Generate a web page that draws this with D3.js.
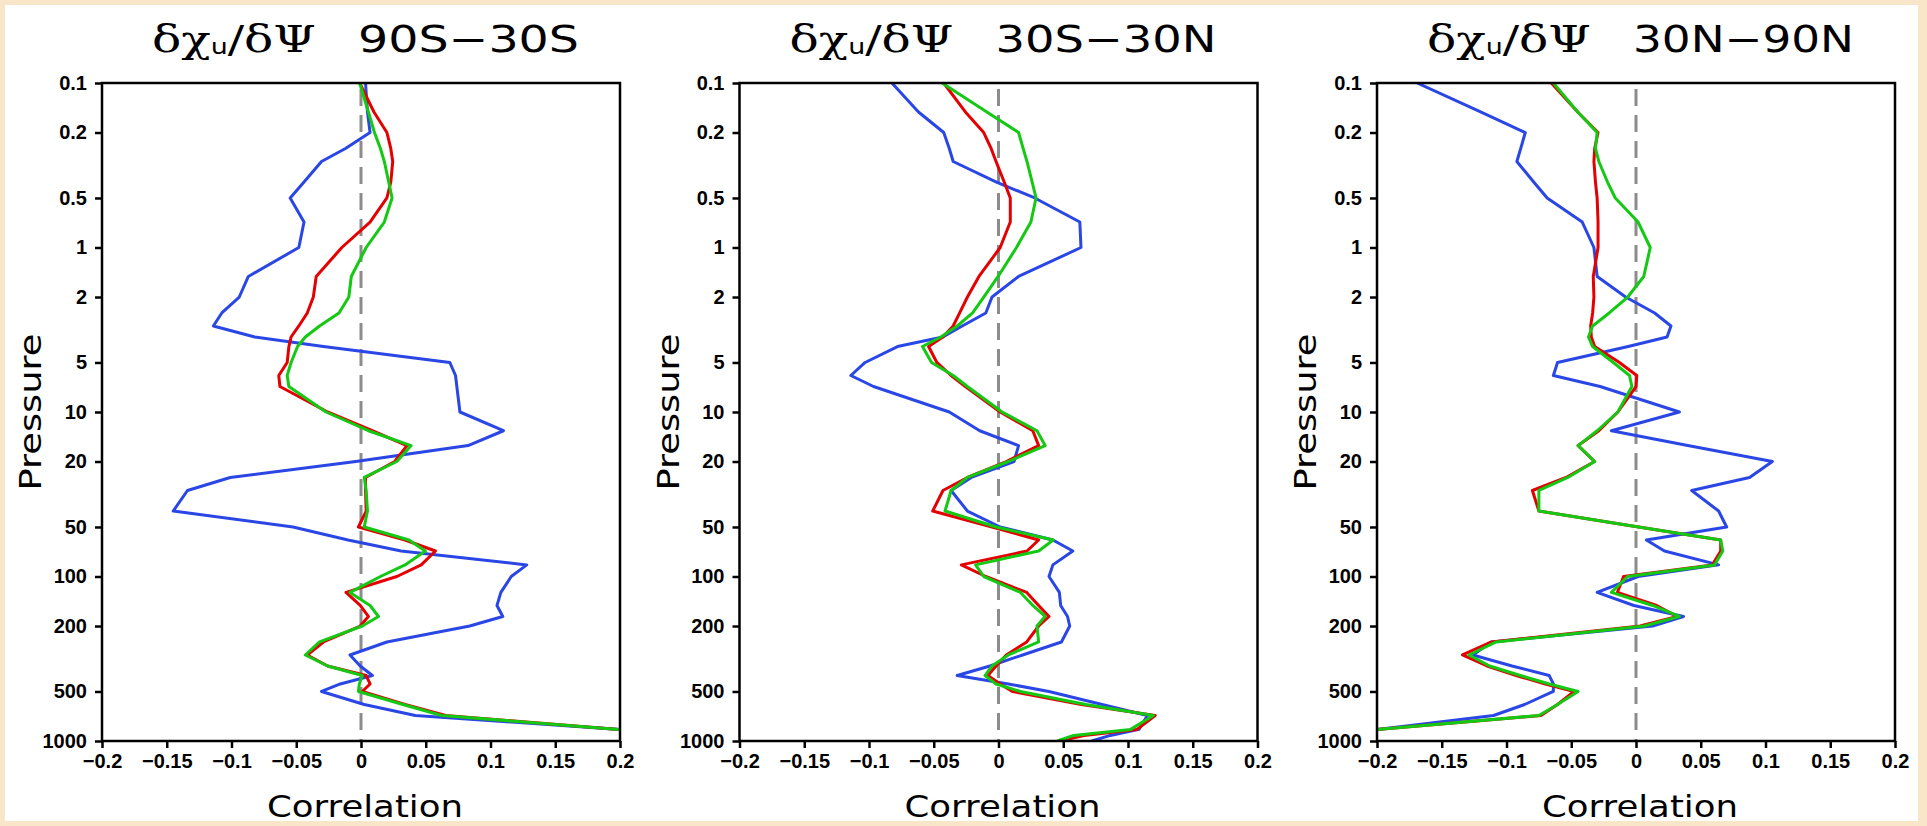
<!DOCTYPE html>
<html>
<head>
<meta charset="utf-8">
<script src="https://cdn.jsdelivr.net/npm/d3@7"></script>
<style>
  html, body { margin: 0; padding: 0; background: #f9e6c9; }
  svg { display: block; }
</style>
</head>
<body>
<svg id="chart" width="1927" height="826"></svg>
<script>
// Pressure levels (hPa) shared by every profile
const pressureLevels = [0.1, 0.15, 0.2, 0.25, 0.3, 0.4, 0.5, 0.7, 1, 1.5, 2, 2.5, 3, 3.5, 4, 5, 6, 7,
  10, 13, 16, 20, 25, 30, 40, 50, 60, 70, 85, 100, 125, 150, 175, 200, 250, 300, 350, 400, 450, 500,
  600, 700, 850, 925, 1000];

const regionNames = ["90S\u221230S", "30S\u221230N", "30N\u221290N"];
const xTickValues = [-0.2, -0.15, -0.1, -0.05, 0, 0.05, 0.1, 0.15, 0.2];
const yTickValues = [0.1, 0.2, 0.5, 1, 2, 5, 10, 20, 50, 100, 200, 500, 1000];

// 90S-30S correlation profiles
const southBlue = [0.0035, 0.005, 0.007, -0.012, -0.0305, -0.044, -0.0547, -0.044, -0.048, -0.087, -0.094,
  -0.1075, -0.114, -0.082, -0.029, 0.0686, 0.073, 0.074, 0.0764, 0.110, 0.0827, -0.004, -0.101, -0.134,
  -0.145, -0.0525, -0.010, 0.031, 0.128, 0.116, 0.108, 0.105, 0.1095, 0.084, 0.020, -0.0085, -0.0006,
  0.0088, -0.016, -0.0305, 0.0025, 0.042, 0.200, 0.26, 0.28];
const southRed = [-0.001, 0.010, 0.020, 0.023, 0.0245, 0.023, 0.020, 0.007, -0.0148, -0.0346, -0.0368,
  -0.0415, -0.048, -0.054, -0.0557, -0.057, -0.0635, -0.0626, -0.0258, 0.0088, 0.0355, 0.026, 0.0035,
  0.0035, 0.004, -0.002, 0.034, 0.0575, 0.0465, 0.0277, -0.0116, -0.0006, 0.0057, -0.0006, -0.029,
  -0.0415, -0.0258, 0.004, 0.007, 0.001, 0.034, 0.0654, 0.199, 0.26, 0.28];
const southGreen = [-0.001, 0.0057, 0.0104, 0.015, 0.018, 0.0214, 0.024, 0.018, 0.004, -0.0075, -0.0094,
  -0.017, -0.032, -0.043, -0.049, -0.054, -0.057, -0.0557, -0.027, 0.0057, 0.0387, 0.0277, 0.0025, 0.004,
  0.005, 0.0025, 0.037, 0.0497, 0.034, 0.015, -0.0085, 0.007, 0.0135, 0.001, -0.032, -0.043, -0.0258,
  0.001, -0.0013, -0.002, 0.0324, 0.0623, 0.199, 0.26, 0.28];

// 30S-30N correlation profiles
const tropicsBlue = [-0.0823, -0.0618, -0.0423, -0.038, -0.035, -0.0016, 0.028, 0.0628, 0.0637, 0.0155,
  -0.005, -0.0098, -0.028, -0.043, -0.078, -0.103, -0.114, -0.0965, -0.038, -0.0145, 0.0155, 0.012,
  -0.021, -0.0366, -0.024, 0.0013, 0.042, 0.0574, 0.042, 0.039, 0.047, 0.048, 0.0533, 0.055, 0.0486,
  0.0186, -0.0066, -0.0319, 0.0076, 0.039, 0.080, 0.115, 0.1085, 0.0864, 0.072];
const tropicsRed = [-0.0423, -0.0256, -0.0114, -0.0057, -0.0019, 0.0044, 0.0091, 0.0091, 0.0013, -0.0151,
  -0.024, -0.030, -0.035, -0.043, -0.054, -0.0476, -0.0366, -0.0256, 0.0013, 0.0265, 0.031, 0.006, -0.024,
  -0.0429, -0.0508, -0.005, 0.031, 0.022, -0.0287, -0.0098, 0.0218, 0.031, 0.039, 0.031, 0.0218, 0.006,
  -0.0019, -0.0082, 0.0013, 0.0107, 0.064, 0.121, 0.107, 0.066, 0.047];
const tropicsGreen = [-0.0435, -0.009, 0.0155, 0.019, 0.022, 0.026, 0.029, 0.025, 0.0139, -0.0003, -0.0114,
  -0.020, -0.0319, -0.0445, -0.0587, -0.0517, -0.035, -0.024, 0.0028, 0.0297, 0.036, 0.0076, -0.024,
  -0.0366, -0.0413, -0.0019, 0.0423, 0.031, -0.0177, -0.0114, 0.017, 0.0265, 0.036, 0.0297, 0.031, 0.0076,
  -0.005, -0.0104, -0.0019, 0.017, 0.0675, 0.1196, 0.102, 0.058, 0.0454];

// 30N-90N correlation profiles
const northBlue = [-0.169, -0.120, -0.0855, -0.089, -0.092, -0.079, -0.0686, -0.0415, -0.0325, -0.030,
  -0.008, 0.0144, 0.027, 0.024, -0.006, -0.0606, -0.0638, -0.0277, 0.0335, -0.019, 0.040, 0.1053, 0.0877,
  0.043, 0.0638, 0.070, 0.008, 0.022, 0.0638, 0.0016, -0.030, -0.0016, 0.0367, 0.0128, -0.1116, -0.126,
  -0.0957, -0.067, -0.0638, -0.0638, -0.086, -0.110, -0.200, -0.25, -0.27];
const northRed = [-0.0654, -0.045, -0.0293, -0.0319, -0.0325, -0.0313, -0.030, -0.0293, -0.0293, -0.033,
  -0.0325, -0.0335, -0.035, -0.0345, -0.0319, -0.0128, 0.0006, 0.0, -0.014, -0.0287, -0.0447, -0.032,
  -0.054, -0.080, -0.075, 0.002, 0.0654, 0.0654, 0.059, -0.0096, -0.0144, 0.016, 0.0319, 0.0032, -0.1116,
  -0.134, -0.115, -0.0925, -0.070, -0.0478, -0.0606, -0.0734, -0.2, -0.25, -0.27];
const northGreen = [-0.0638, -0.045, -0.030, -0.0313, -0.0287, -0.022, -0.016, 0.0016, 0.011, 0.006,
  -0.0064, -0.0207, -0.0335, -0.0367, -0.0335, -0.0175, -0.005, -0.0032, -0.014, -0.030, -0.0447, -0.0319,
  -0.0526, -0.075, -0.075, 0.002, 0.0654, 0.067, 0.0606, -0.0064, -0.019, 0.0128, 0.0335, 0.0064, -0.108,
  -0.129, -0.113, -0.0893, -0.067, -0.0447, -0.0606, -0.075, -0.2, -0.25, -0.27];

const panelSeries = [
  [southBlue, southRed, southGreen],
  [tropicsBlue, tropicsRed, tropicsGreen],
  [northBlue, northRed, northGreen]
];
const seriesColors = ["#2a46e4", "#e40000", "#14c814"];

const svg = d3.select("#chart");
const W = 1927, H = 826;

// page frame
svg.append("rect").attr("width", W).attr("height", H).attr("fill", "#f9e6c9");
svg.append("rect").attr("x", 5).attr("y", 5).attr("width", 1913).attr("height", 816).attr("fill", "#ffffff");

const plotW = 518, plotH = 658, plotTop = 83;
const panelLefts = [102, 739.5, 1377];

const x = d3.scaleLinear().domain([-0.2, 0.2]).range([0, plotW]);
const y = d3.scaleLog().domain([0.1, 1000]).range([0, plotH]);

const fmtX = d => d === 0 ? "0" : (d < 0 ? "\u2212" : "") + String(Math.abs(d)).replace(/^0(?=\.)/, "0");
const fmtY = d => String(d);

panelSeries.forEach((series, i) => {
  const left = panelLefts[i];
  const g = svg.append("g").attr("transform", `translate(${left},${plotTop})`);

  g.append("clipPath").attr("id", `clip${i}`)
    .append("rect").attr("width", plotW).attr("height", plotH);

  // zero reference line
  g.append("line")
    .attr("x1", x(0)).attr("x2", x(0))
    .attr("y1", 6).attr("y2", plotH)
    .attr("stroke", "#8c8c8c").attr("stroke-width", 3)
    .attr("stroke-dasharray", "17,9");

  const line = d3.line()
    .x(d => x(d[1]))
    .y(d => y(d[0]));

  const plotArea = g.append("g").attr("clip-path", `url(#clip${i})`);
  series.forEach((vals, k) => {
    const pts = pressureLevels.map((p, j) => [p, vals[j]]);
    plotArea.append("path")
      .datum(pts)
      .attr("d", line)
      .attr("fill", "none")
      .attr("stroke", seriesColors[k])
      .attr("stroke-width", 3)
      .attr("stroke-linejoin", "round");
  });

  // axes
  const yAxis = d3.axisLeft(y).tickValues(yTickValues).tickFormat(fmtY)
    .tickSize(7).tickSizeOuter(0).tickPadding(8);
  const ya = g.append("g").call(yAxis);
  const xAxis = d3.axisBottom(x).tickValues(xTickValues).tickFormat(fmtX)
    .tickSize(7).tickSizeOuter(0).tickPadding(6);
  const xa = g.append("g").attr("transform", `translate(0,${plotH})`).call(xAxis);
  [ya, xa].forEach(a => {
    a.select(".domain").remove();
    a.selectAll(".tick line").attr("stroke", "#000").attr("stroke-width", 2.5);
    a.selectAll(".tick text")
      .attr("fill", "#000")
      .style("font-family", "'Liberation Sans', Arial, sans-serif")
      .style("font-weight", "bold")
      .style("font-size", "20px");
  });

  // frame
  g.append("rect").attr("width", plotW).attr("height", plotH)
    .attr("fill", "none").attr("stroke", "#000").attr("stroke-width", 2.5);

  // title
  const greek = svg.append("text")
    .attr("x", left + 50).attr("y", 52)
    .attr("textLength", 164).attr("lengthAdjust", "spacingAndGlyphs")
    .style("font-family", "'DejaVu Serif', serif")
    .style("font-size", "38px")
    .attr("fill", "#000");
  greek.append("tspan").text("\u03b4\u03c7");
  greek.append("tspan").attr("dy", 2).style("font-size", "21px").style("font-family", "'DejaVu Sans', sans-serif").text("u");
  greek.append("tspan").attr("dy", -2).text("/\u03b4\u03a8");

  svg.append("text")
    .attr("x", left + 256).attr("y", 52)
    .attr("textLength", 221).attr("lengthAdjust", "spacingAndGlyphs")
    .style("font-family", "'DejaVu Sans', sans-serif")
    .style("font-size", "37px")
    .attr("fill", "#000")
    .text(regionNames[i]);

  // axis titles
  svg.append("text")
    .attr("x", left + plotW / 2 + 4).attr("y", 817)
    .attr("text-anchor", "middle")
    .attr("textLength", 196).attr("lengthAdjust", "spacingAndGlyphs")
    .style("font-family", "'DejaVu Sans', sans-serif")
    .style("font-size", "31px")
    .attr("fill", "#000")
    .text("Correlation");

  svg.append("text")
    .attr("transform", `translate(${left - 61},${plotTop + plotH / 2}) rotate(-90)`)
    .attr("text-anchor", "middle")
    .attr("textLength", 157).attr("lengthAdjust", "spacingAndGlyphs")
    .style("font-family", "'DejaVu Sans', sans-serif")
    .style("font-size", "31px")
    .attr("fill", "#000")
    .text("Pressure");
});
</script>
</body>
</html>
